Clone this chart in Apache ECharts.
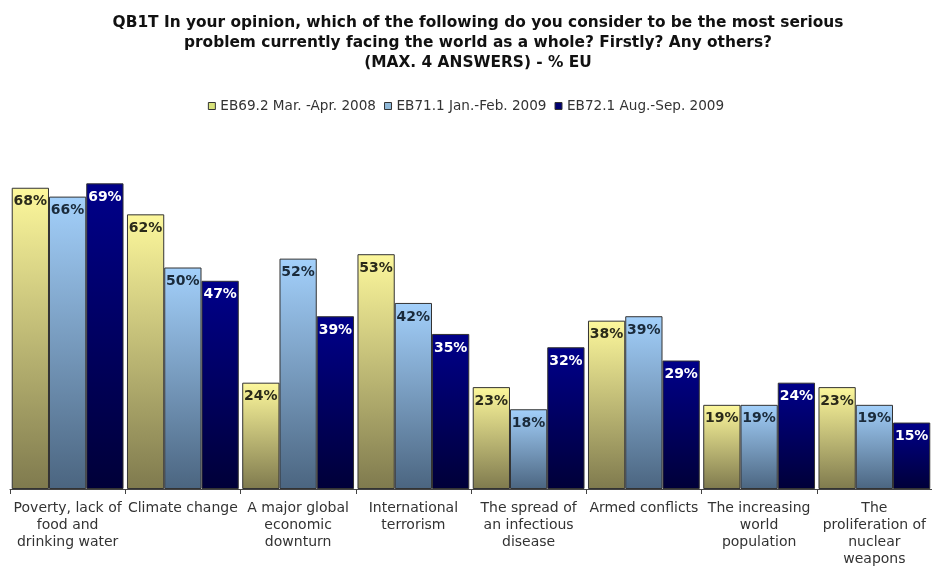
<!DOCTYPE html>
<html>
<head>
<meta charset="utf-8">
<script src="https://cdn.jsdelivr.net/npm/echarts@6/dist/echarts.min.js"></script>
<style>
    html, body { margin: 0; padding: 0; background: #fff; }
    #chart { width: 932px; height: 568px; }
</style>
</head>
<body>
<div id="chart"></div>
<script>
//类别
var categories = [
    "Poverty, lack of\nfood and\ndrinking water",
    "Climate change",
    "A major global\neconomic\ndownturn",
    "International\nterrorism",
    "The spread of\nan infectious\ndisease",
    "Armed conflicts",
    "The increasing\nworld\npopulation",
    "The\nproliferation of\nnuclear\nweapons"
];

//系列名称
var seriesNames = ["EB69.2 Mar. -Apr. 2008", "EB71.1 Jan.-Feb. 2009", "EB72.1 Aug.-Sep. 2009"];

//数据
var eb692 = [68, 62, 24, 53, 23, 38, 19, 23];
var eb711 = [66, 50, 52, 42, 18, 39, 19, 19];
var eb721 = [69, 47, 39, 35, 32, 29, 24, 15];

var myChart = echarts.init(document.getElementById("chart"));

//渐变色
function grad(top, bottom) {
    return new echarts.graphic.LinearGradient(0, 0, 0, 1, [
        { offset: 0, color: top },
        { offset: 1, color: bottom }
    ]);
}

var fills = [
    grad("#fdf89c", "#7f7a4e"),
    grad("#a3d0fb", "#4b6580"),
    grad("#00008a", "#000038")
];
var legendColors = ["#d8e27a", "#8fb8d8", "#000070"];
var labelColors = ["#2a2a1a", "#1a2a3a", "#fff"];
var allData = [eb692, eb711, eb721];

var series = [];
for (var i = 0; i < 3; i++) {
    series.push({
        name: seriesNames[i],
        type: "bar",
        data: allData[i],
        barGap: "0%",
        barCategoryGap: "3%",
        itemStyle: {
            color: fills[i],
            borderColor: "#333",
            borderWidth: 1
        },
        label: {
            show: true,
            position: "insideTop",
            distance: 7,
            formatter: "{c}%",
            fontFamily: "DejaVu Sans",
            fontWeight: "bold",
            fontSize: 14,
            color: labelColors[i]
        }
    });
}

var option = {
    animation: false,
    title: {
        text: "QB1T In your opinion, which of the following do you consider to be the most serious\nproblem currently facing the world as a whole? Firstly? Any others?\n(MAX. 4 ANSWERS) - % EU",
        left: 473,
        textAlign: "center",
        top: 8,
        textStyle: {
            fontFamily: "DejaVu Sans",
            fontWeight: "bold",
            fontSize: 15.4,
            lineHeight: 20,
            color: "#111"
        }
    },
    legend: {
        data: seriesNames.map(function (n, k) {
            return { name: n, itemStyle: { color: legendColors[k], borderColor: "#333", borderWidth: 1 } };
        }),
        top: 94,
        left: "center",
        itemWidth: 7,
        itemHeight: 7,
        itemGap: 8,
        icon: "rect",
        textStyle: {
            fontFamily: "DejaVu Sans",
            fontSize: 13.6,
            color: "#333"
        }
    },
    grid: {
        left: 10,
        width: 924,
        top: 134.6,
        bottom: 75,
        containLabel: false
    },
    xAxis: {
        type: "category",
        data: categories,
        axisLine: { lineStyle: { color: "#444", width: 1 } },
        axisTick: { show: true, length: 5, lineStyle: { color: "#444" } },
        axisLabel: {
            interval: 0,
            margin: 11,
            fontFamily: "DejaVu Sans",
            fontSize: 14,
            lineHeight: 17,
            color: "#333"
        }
    },
    yAxis: {
        type: "value",
        min: 0,
        max: 80,
        show: false,
        splitLine: { show: false }
    },
    series: series
};

myChart.setOption(option);
</script>
</body>
</html>
